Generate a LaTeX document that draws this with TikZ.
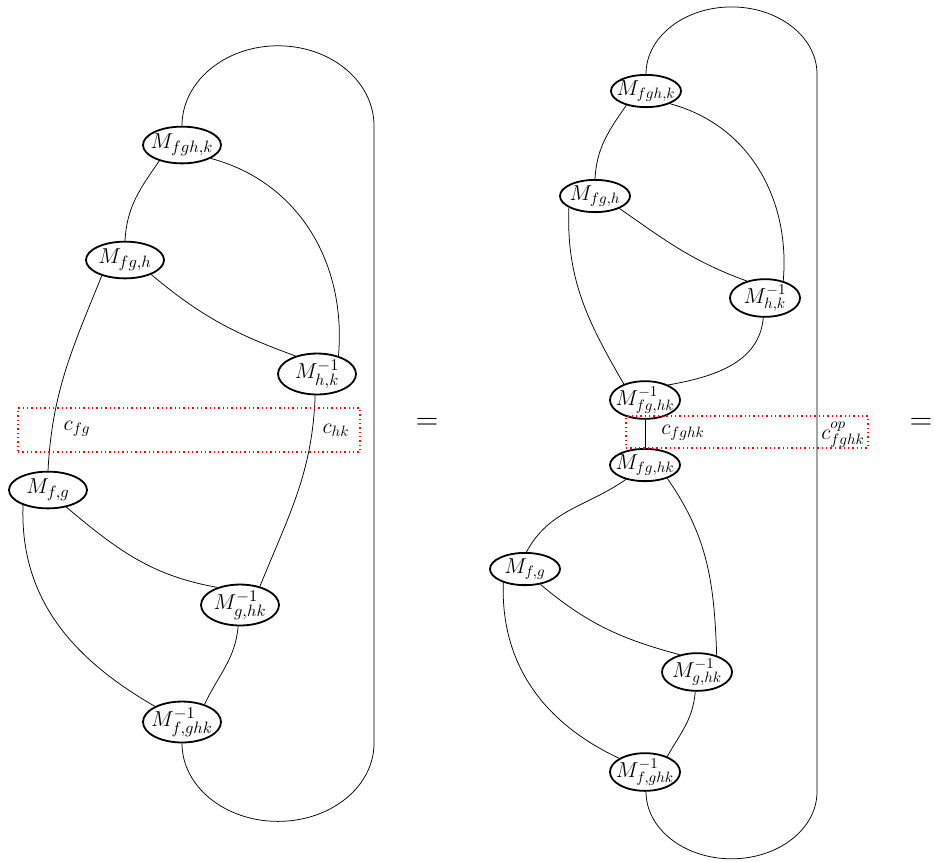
\documentclass[tikz,border=0pt]{standalone}
\usetikzlibrary{shapes.geometric,calc}
\newcommand{\ztext}[1]{\makebox[0pt]{$#1$}}
\begin{document}
\begin{tikzpicture}[x=0.6667pt,y=0.6667pt,
  mnodeL/.style={ellipse,draw,line width=1.2pt,inner sep=0pt,minimum width=52pt,minimum height=24.5pt,font=\fontsize{15.5}{18}\selectfont},
  mnodeR/.style={ellipse,draw,line width=1.2pt,inner sep=0pt,minimum width=46.7pt,minimum height=21.5pt,font=\fontsize{14}{17}\selectfont},
  wire/.style={line width=0.5pt},
  cbox/.style={draw=red,dotted,line width=0.9pt},
  clabel/.style={font=\fontsize{14}{17}\selectfont,inner sep=0pt},
  eqsign/.style={font=\fontsize{22}{26}\selectfont}]
\useasboundingbox (0,0) rectangle (934,-861);

% ---------- left diagram ----------
\node[mnodeL] (LA) at (182,-145) {\ztext{M_{fgh,k}}};
\node[mnodeL] (LB) at (125,-260) {\ztext{M_{fg,h}}};
\node[mnodeL] (LC) at (317,-374) {\ztext{M^{-1}_{h,k}}};
\node[mnodeL] (LD) at (48,-490) {\ztext{M_{f,g}}};
\node[mnodeL] (LE) at (240,-605) {\ztext{M^{-1}_{g,hk}}};
\node[mnodeL] (LF) at (182,-722) {\ztext{M^{-1}_{f,ghk}}};

\draw[wire] (LA.-145) to[out=-125,in=87] (LB.north);
\draw[wire] (LA.-25) to[out=-15,in=85] (LC.40);
\draw[wire] (LB.-29) to[out=-40,in=160] (LC.140);
\draw[wire] (LB.-146) to[out=-112,in=87] (LD.north);
\draw[wire] (LC.-95) to[out=-92,in=68] (LE.43);
\draw[wire] (LD.-43) to[out=-40,in=170] (LE.142);
\draw[wire] (LD.-149) to[out=-92,in=150] (LF.150);
\draw[wire] (LE.-95) to[out=-95,in=65] (LF.38);
\draw[wire] (LA.north) arc[start angle=180,end angle=0,x radius=64pt,y radius=53.3pt] coordinate (LTR)
  -- (LTR |- LF.south) arc[start angle=0,end angle=-180,x radius=64pt,y radius=52pt];

\node[cbox,minimum width=228pt,minimum height=29.3pt,inner sep=0pt] (LBOX) at (189,-430) {};
\node[clabel] (cfg) at (77,-429) {$c_{fg}$};
\node[clabel] (chk) at (336,-430) {$c_{hk}$};

\node[eqsign] (eq1) at (427,-424) {$=$};

% ---------- right diagram ----------
\node[mnodeR] (RA) at (646,-91) {\ztext{M_{fgh,k}}};
\node[mnodeR] (RB) at (595,-196) {\ztext{M_{fg,h}}};
\node[mnodeR] (RC) at (765,-298) {\ztext{M^{-1}_{h,k}}};
\node[mnodeR] (RG) at (645,-400) {\ztext{M^{-1}_{fg,hk}}};
\node[mnodeR] (RH) at (645,-465) {\ztext{M_{fg,hk}}};
\node[mnodeR] (RD) at (525,-569) {\ztext{M_{f,g}}};
\node[mnodeR] (RE) at (697,-672) {\ztext{M^{-1}_{g,hk}}};
\node[mnodeR] (RF) at (645,-772) {\ztext{M^{-1}_{f,ghk}}};

\draw[wire] (RA.-144) to[out=-125,in=87] (RB.north);
\draw[wire] (RA.-28) to[out=-15,in=85] (RC.43);
\draw[wire] (RB.-27) to[out=-35,in=160] (RC.137);
\draw[wire] (RB.-156) to[out=-92,in=120] (RG.143);
\draw[wire] (RC.-95) to[out=-95,in=10] (RG.33);
\draw[wire] (RG) -- (RH);
\draw[wire] (RH.-143) to[out=-145,in=62] (RD.85);
\draw[wire] (RH.-31) to[out=-55,in=92] (RE.40);
\draw[wire] (RD.-45) to[out=-40,in=165] (RE.135);
\draw[wire] (RD.-148) to[out=-92,in=155] (RF.152);
\draw[wire] (RE.-95) to[out=-95,in=60] (RF.35);
\draw[wire] (RA.north) arc[start angle=180,end angle=0,x radius=57pt,y radius=44.7pt] coordinate (RTR)
  -- (RTR |- RF.south) arc[start angle=0,end angle=-180,x radius=57pt,y radius=44.7pt];

\node[cbox,minimum width=161.3pt,minimum height=21.3pt,inner sep=0pt] (RBOX) at (747,-432) {};
\node[clabel] (cfghk) at (683,-433) {$c_{fghk}$};
\node[clabel] (cop) at (843,-435) {$c^{op}_{fghk}$};

\node[eqsign] (eq2) at (921,-424) {$=$};
\end{tikzpicture}
\end{document}
